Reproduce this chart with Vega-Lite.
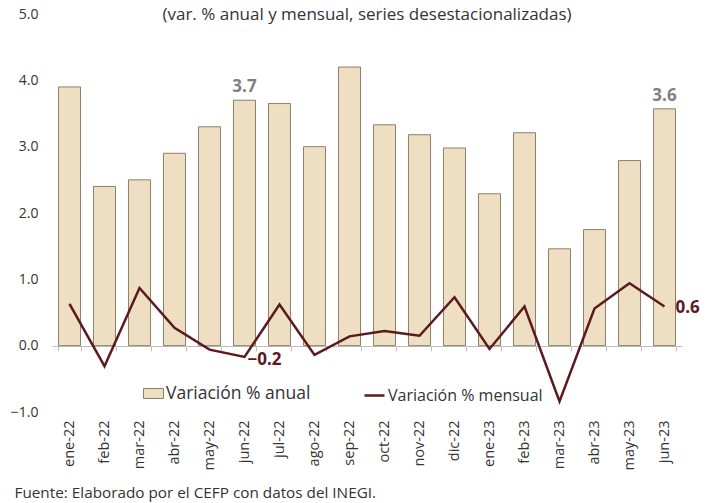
{
  "$schema": "https://vega.github.io/schema/vega-lite/v6.json",
  "width": 630,
  "height": 398,
  "autosize": {"type": "none"},
  "padding": {"left": 52, "top": 14, "right": 31, "bottom": 91},
  "background": "white",
  "config": {
    "font": "Open Sans",
    "view": {"stroke": null},
    "axis": {"labelFont": "Open Sans", "labelColor": "#333333", "titleFont": "Open Sans"},
    "legend": {"labelFont": "Open Sans", "padding": 0, "labelLimit": 400}
  },
  "title": {
    "text": "(var. % anual y mensual, series desestacionalizadas)",
    "fontSize": 17,
    "fontWeight": "normal",
    "color": "#333333",
    "anchor": "middle",
    "offset": -17
  },
  "data": {
    "values": [
      {"mes": "ene-22", "anual": 3.9, "mensual": 0.63},
      {"mes": "feb-22", "anual": 2.4, "mensual": -0.31},
      {"mes": "mar-22", "anual": 2.5, "mensual": 0.87},
      {"mes": "abr-22", "anual": 2.9, "mensual": 0.27},
      {"mes": "may-22", "anual": 3.3, "mensual": -0.06},
      {"mes": "jun-22", "anual": 3.7, "mensual": -0.17},
      {"mes": "jul-22", "anual": 3.65, "mensual": 0.62},
      {"mes": "ago-22", "anual": 3.0, "mensual": -0.14},
      {"mes": "sep-22", "anual": 4.2, "mensual": 0.14},
      {"mes": "oct-22", "anual": 3.33, "mensual": 0.22},
      {"mes": "nov-22", "anual": 3.18, "mensual": 0.15},
      {"mes": "dic-22", "anual": 2.98, "mensual": 0.73},
      {"mes": "ene-23", "anual": 2.29, "mensual": -0.05},
      {"mes": "feb-23", "anual": 3.21, "mensual": 0.59},
      {"mes": "mar-23", "anual": 1.46, "mensual": -0.84},
      {"mes": "abr-23", "anual": 1.75, "mensual": 0.56},
      {"mes": "may-23", "anual": 2.79, "mensual": 0.94},
      {"mes": "jun-23", "anual": 3.57, "mensual": 0.59}
    ]
  },
  "resolve": {"axis": {"x": "independent"}},
  "layer": [
    {
      "mark": {"type": "bar", "stroke": "#8c7f6b", "strokeWidth": 1},
      "encoding": {
        "x": {
          "field": "mes", "type": "nominal", "sort": null,
          "scale": {"paddingInner": 0.37, "paddingOuter": 0.185},
          "axis": {
            "orient": "bottom",
            "labelAngle": -90, "labelAlign": "right", "labelBaseline": "middle",
            "domain": false, "ticks": false, "labelPadding": 8, "labelFontSize": 14.5,
            "title": "Fuente: Elaborado por el CEFP con datos del INEGI.",
            "titleFontSize": 15.3, "titleFontWeight": "normal", "titleColor": "#333333",
            "titleX": -38, "titleY": 85, "titleAlign": "left", "titleAnchor": "start", "titleBaseline": "alphabetic"
          }
        },
        "y": {
          "field": "anual", "type": "quantitative", "title": null,
          "scale": {"domain": [-1, 5], "nice": false, "zero": false},
          "axis": {"values": [-1, 0, 1, 2, 3, 4, 5], "format": ".1f", "domain": false, "ticks": false, "grid": false, "labelFontSize": 14, "labelPadding": 14}
        },
        "fill": {
          "datum": "Variación % anual",
          "scale": {"range": ["#efdfc2"]},
          "legend": {
            "orient": "none", "legendX": 91, "legendY": 369, "title": null,
            "symbolType": "M-1,-0.5H1V0.5H-1Z", "symbolSize": 400,
            "symbolStrokeColor": "#8c7f6b", "symbolStrokeWidth": 1,
            "labelFontSize": 17.5, "labelColor": "#333333", "labelOffset": 2
          }
        }
      }
    },
    {
      "mark": {"type": "line", "strokeWidth": 2.5},
      "encoding": {
        "x": {
          "field": "mes", "type": "nominal", "sort": null,
          "axis": {"orient": "bottom", "offset": -66, "labels": false, "domain": true, "domainColor": "#bfbfbf", "ticks": true, "tickColor": "#bfbfbf", "tickSize": 5, "tickBand": "extent", "title": null}
        },
        "y": {"field": "mensual", "type": "quantitative", "title": null},
        "stroke": {
          "datum": "Variación % mensual",
          "scale": {"range": ["#5b1a1f"]},
          "legend": {
            "orient": "none", "legendX": 311, "legendY": 370, "title": null,
            "symbolType": "stroke", "symbolSize": 400, "symbolStrokeWidth": 2.5,
            "labelFontSize": 16, "labelColor": "#333333", "labelOffset": 2
          }
        }
      }
    },
    {
      "transform": [{"filter": "datum.mes == 'jun-22' || datum.mes == 'jun-23'"}],
      "mark": {"type": "text", "fontSize": 17, "fontWeight": "bold", "color": "#808080", "baseline": "alphabetic", "dy": -8},
      "encoding": {
        "x": {"field": "mes", "type": "nominal", "sort": null, "axis": null},
        "y": {"field": "anual", "type": "quantitative", "title": null},
        "text": {"field": "anual", "type": "quantitative", "format": ".1f"}
      }
    },
    {
      "transform": [{"filter": "datum.mes == 'jun-22'"}],
      "mark": {"type": "text", "fontSize": 17, "fontWeight": "bold", "color": "#5b1a1f", "align": "left", "baseline": "middle", "dx": 3, "dy": 3},
      "encoding": {
        "x": {"field": "mes", "type": "nominal", "sort": null, "axis": null},
        "y": {"field": "mensual", "type": "quantitative", "title": null},
        "text": {"field": "mensual", "type": "quantitative", "format": ".1f"}
      }
    },
    {
      "transform": [{"filter": "datum.mes == 'jun-23'"}],
      "mark": {"type": "text", "fontSize": 17, "fontWeight": "bold", "color": "#5b1a1f", "align": "left", "baseline": "middle", "dx": 11, "dy": 1},
      "encoding": {
        "x": {"field": "mes", "type": "nominal", "sort": null, "axis": null},
        "y": {"field": "mensual", "type": "quantitative", "title": null},
        "text": {"field": "mensual", "type": "quantitative", "format": ".1f"}
      }
    }
  ]
}
